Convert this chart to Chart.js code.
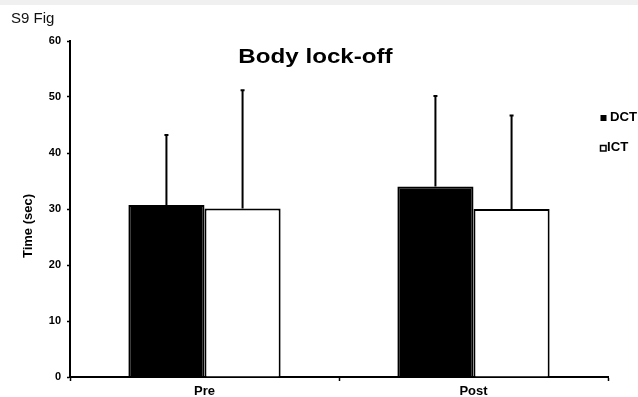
<!DOCTYPE html>
<html>
<head>
<meta charset="utf-8">
<script src="https://cdn.jsdelivr.net/npm/chart.js@4"></script>
<style>
  html, body { margin: 0; padding: 0; background: #fff; }
  #wrap { position: relative; width: 638px; height: 397px; }
  #band { position: absolute; left: 0; top: 0; width: 638px; height: 5px; background: #f0f0f0; }
  #fig { position: absolute; left: 11px; top: 9px; font: 15px 'Liberation Sans', Arial, sans-serif; color: #111; }
  canvas { position: absolute; left: 0; top: 0; }
</style>
</head>
<body>
<div id="wrap">
  <canvas id="chart" width="638" height="397"></canvas>
  <div id="band"></div>
  <div id="fig">S9 Fig</div>
</div>
<script>
// chart data
const categories = ['Pre', 'Post'];
const dctMeans = [30.7, 34.0];
const ictMeans = [30.1, 30.0];
const dctSD = [12.5, 16.2];
const ictSD = [21.1, 16.7];
const yTicks = [0, 10, 20, 30, 40, 50, 60];

const FONT = "'Liberation Sans', Arial, sans-serif";

// one-sided (upper) error bars, positioned from the bar elements and y scale
const errorBars = {
  id: 'errorBars',
  afterDatasetsDraw(chart) {
    const ctx = chart.ctx;
    const y = chart.scales.y;
    chart.data.datasets.forEach((ds, i) => {
      const meta = chart.getDatasetMeta(i);
      meta.data.forEach((bar, j) => {
        const top = y.getPixelForValue(ds.data[j] + ds.sd[j]);
        ctx.save();
        ctx.strokeStyle = '#000';
        ctx.lineWidth = 2;
        ctx.beginPath();
        ctx.moveTo(bar.x, bar.y);
        ctx.lineTo(bar.x, top);
        ctx.moveTo(bar.x - 2, top);
        ctx.lineTo(bar.x + 2, top);
        ctx.stroke();
        ctx.restore();
      });
    });
  }
};

// title, y-axis title and legend drawn where the original figure has them
const decorations = {
  id: 'decorations',
  afterDraw(chart) {
    const ctx = chart.ctx;
    ctx.save();
    ctx.fillStyle = '#000';

    // title
    ctx.save();
    ctx.translate(315.5, 63);
    ctx.scale(1.15, 1);
    ctx.font = 'bold 21px ' + FONT;
    ctx.textAlign = 'center';
    ctx.textBaseline = 'alphabetic';
    ctx.fillText('Body lock-off', 0, 0);
    ctx.restore();

    // y axis title
    ctx.save();
    ctx.translate(28, 226);
    ctx.rotate(-Math.PI / 2);
    ctx.font = 'bold 13px ' + FONT;
    ctx.textAlign = 'center';
    ctx.textBaseline = 'middle';
    ctx.fillText('Time (sec)', 0, 0);
    ctx.restore();

    // legend
    const rows = [{ y: 118, tx: 610 }, { y: 148, tx: 607 }];
    chart.data.datasets.forEach((ds, i) => {
      const r = rows[i];
      ctx.lineWidth = 1.5;
      ctx.strokeStyle = '#000';
      if (ds.backgroundColor === '#000') {
        ctx.fillRect(600.5, r.y - 3, 6, 6);
      } else {
        ctx.strokeRect(600.5, r.y - 2.5, 5.5, 5.5);
      }
      ctx.save();
      ctx.translate(r.tx, r.y);
      ctx.scale(1.1, 1);
      ctx.font = 'bold 12px ' + FONT;
      ctx.textAlign = 'left';
      ctx.textBaseline = 'middle';
      ctx.fillText(ds.label, 0, 0);
      ctx.restore();
    });
    ctx.restore();
  }
};

new Chart(document.getElementById('chart').getContext('2d'), {
  type: 'bar',
  data: {
    labels: categories,
    datasets: [
      {
        label: 'DCT',
        data: dctMeans,
        sd: dctSD,
        backgroundColor: '#000',
        borderColor: '#000',
        borderWidth: 2,
        barPercentage: 1.0,
        categoryPercentage: 0.566
      },
      {
        label: 'ICT',
        data: ictMeans,
        sd: ictSD,
        backgroundColor: '#fff',
        borderColor: '#000',
        borderWidth: 2,
        barPercentage: 1.0,
        categoryPercentage: 0.566
      }
    ]
  },
  options: {
    responsive: false,
    animation: false,
    layout: { padding: { top: 41, right: 30, left: 0, bottom: 0 } },
    plugins: {
      legend: { display: false },
      title: { display: false },
      tooltip: { enabled: false }
    },
    scales: {
      x: {
        afterFit: s => { s.height = 20; },
        grid: { drawOnChartArea: false, tickLength: 4, tickWidth: 1.5, tickColor: '#000', offset: true },
        border: { color: '#000', width: 2 },
        ticks: { color: '#000', padding: 3, font: { family: FONT, size: 13, weight: 'bold' } }
      },
      y: {
        min: 0,
        max: 60,
        afterFit: s => { s.width = 70; },
        afterBuildTicks: s => { s.ticks = yTicks.map(v => ({ value: v })); },
        grid: { drawOnChartArea: false, tickLength: 3, tickWidth: 1.5, tickColor: '#000' },
        border: { color: '#000', width: 2 },
        ticks: { color: '#000', padding: 6, font: { family: FONT, size: 11, weight: 'bold' } }
      }
    }
  },
  plugins: [errorBars, decorations]
});
</script>
</body>
</html>
